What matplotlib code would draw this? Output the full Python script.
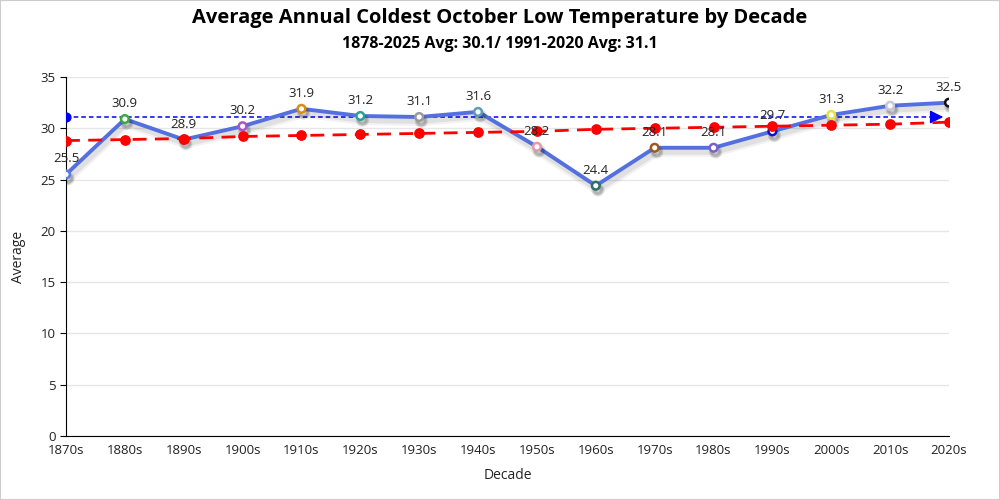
import numpy as np
import matplotlib.pyplot as plt
import matplotlib.patheffects as pe

plt.rcParams['font.family'] = ['Open Sans', 'DejaVu Sans']

# Данные
decades = ['1870s', '1880s', '1890s', '1900s', '1910s', '1920s', '1930s', '1940s',
           '1950s', '1960s', '1970s', '1980s', '1990s', '2000s', '2010s', '2020s']
averages = [25.5, 30.9, 28.9, 30.2, 31.9, 31.2, 31.1, 31.6,
            28.2, 24.4, 28.1, 28.1, 29.7, 31.3, 32.2, 32.5]
trend = [28.8, 28.9, 29.0, 29.2, 29.3, 29.4, 29.5, 29.6,
         29.7, 29.9, 30.0, 30.1, 30.2, 30.3, 30.4, 30.6]
normal_avg = 31.1
marker_colors = ['#5b7be0', '#3aa845', '#8b1a1a', '#a855c8', '#e08a10', '#2aa198',
                 '#9a9a9a', '#5b9cb8', '#e39aa8', '#2f6f6a', '#9a5a22', '#7a62c8',
                 '#1010cc', '#e6e040', '#c8c8d8', '#111111']

x = np.arange(len(decades))

# мягкая тень
line_shadow = [pe.SimpleLineShadow(offset=(1.5, -3), shadow_color='black', alpha=0.05, linewidth=7),
               pe.SimpleLineShadow(offset=(1.5, -3), shadow_color='black', alpha=0.07, linewidth=4),
               pe.Normal()]
marker_shadow = [pe.SimpleLineShadow(offset=(1.5, -3), shadow_color='black', alpha=0.12, linewidth=4),
                 pe.SimpleLineShadow(offset=(1.5, -3), shadow_color='black', alpha=0.15, linewidth=2),
                 pe.Normal()]

fig = plt.figure(figsize=(10, 5), dpi=100)
ax = fig.add_axes([0.066, 0.128, 0.883, 0.718])

# Сетка
ax.set_ylim(0, 35)
ax.set_xlim(0, len(decades) - 1)
ax.set_yticks(range(0, 36, 5))
ax.grid(axis='y', color='#e6e6e6', linewidth=1)
ax.set_axisbelow(True)

# Средняя 1991-2020
ax.plot([0, len(decades) - 1.1], [normal_avg, normal_avg], color='#0000ff',
        linestyle=(0, (3, 2)), linewidth=1.1, zorder=3)
ax.scatter([0], [normal_avg], color='blue', s=40, zorder=4)
ax.annotate('', xy=(len(decades) - 1.05, normal_avg), xytext=(len(decades) - 1.35, normal_avg),
            arrowprops=dict(arrowstyle='-|>', color='blue', lw=1, mutation_scale=20), zorder=4)

# Основная линия
ax.plot(x, averages, color='#5470e0', linewidth=2.8, zorder=5, path_effects=line_shadow)
for i, v in enumerate(averages):
    ax.plot(x[i], v, marker='o', markersize=5.5, markerfacecolor='white',
            markeredgecolor=marker_colors[i], markeredgewidth=1.8, zorder=6,
            path_effects=marker_shadow)

# Линия тренда
ax.plot(x, trend, color='red', linestyle=(0, (5, 3)), linewidth=2, zorder=7)
ax.scatter(x, trend, color='red', s=45, zorder=7)

for i, v in enumerate(averages):
    ax.annotate(f'{v}', (x[i], v), xytext=(0, 6.5), textcoords='offset points',
                ha='center', va='bottom', fontsize=9.5, color='#222222', zorder=8)

# Оси
ax.set_xticks(x)
ax.set_xticklabels(decades, fontsize=9.5, color='#222222')
ax.tick_params(axis='x', length=0, pad=6)
ax.tick_params(axis='y', length=4, labelsize=9.5, labelcolor='#222222')
for s in ['top', 'right']:
    ax.spines[s].set_visible(False)
ax.spines['left'].set_color('black')
ax.spines['bottom'].set_color('black')
ax.set_xlabel('Decade', fontsize=10, color='#222222', labelpad=8)
ax.set_ylabel('Average', fontsize=10, color='#222222', labelpad=10)

fig.text(0.5, 0.965, 'Average Annual Coldest October Low Temperature by Decade',
         ha='center', va='center', fontsize=14.5, fontweight='bold')
fig.text(0.5, 0.912, '1878-2025 Avg: 30.1/ 1991-2020 Avg: 31.1',
         ha='center', va='center', fontsize=11.5, fontweight='bold')

# Рамка
fig.patches.append(plt.Rectangle((0, 0), 1, 1, transform=fig.transFigure, fill=False,
                                 edgecolor='#cccccc', linewidth=1.5))

fig.savefig('out.png', dpi=100)
